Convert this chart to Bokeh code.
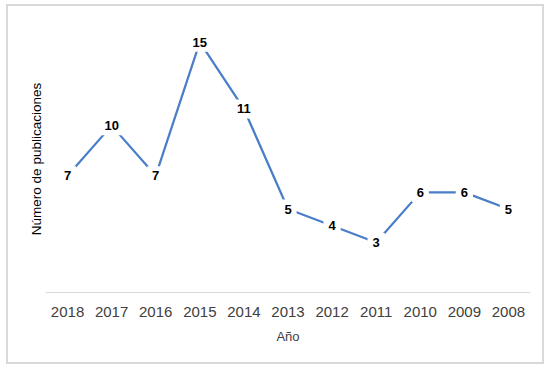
from bokeh.plotting import figure
from bokeh.models import ColumnDataSource, Range1d, FactorRange, FixedTicker
from bokeh.core.properties import value
from bokeh.embed import file_html
from bokeh.resources import INLINE

years = ["2018", "2017", "2016", "2015", "2014", "2013", "2012", "2011", "2010", "2009", "2008"]
counts = [7, 10, 7, 15, 11, 5, 4, 3, 6, 6, 5]
labels = [str(c) for c in counts]

src = ColumnDataSource(dict(x=years, y=counts, t=labels))

FONT = "Liberation Sans"
LINE = "#4A7EC8"

p = figure(width=538, height=360, x_range=FactorRange(*years), y_range=Range1d(0, 16),
           output_backend="svg", toolbar_location=None,
           min_border_left=37, min_border_right=16, min_border_top=19, min_border_bottom=74,
           styles={"border": "2px solid #D9D9D9",
                   "margin-left": "6px", "margin-top": "4px"})
p.outline_line_color = None
p.xgrid.visible = False
p.ygrid.visible = False
p.x_range.range_padding = 0

p.line("x", "y", source=src, line_color=LINE, line_width=2.25)
p.text(x="x", y="y", text="t", source=src, text_align="center",
       text_baseline="middle", text_font=value(FONT), text_font_style="bold",
       text_font_size="13px", text_color="#000000",
       background_fill_color="white", border_line_color=None, padding=5)

xa = p.xaxis[0]
xa.axis_line_color = "#D9D9D9"
xa.axis_line_width = 1
xa.major_tick_line_color = None
xa.minor_tick_line_color = None
xa.major_tick_out = 0
xa.major_label_standoff = 14
xa.major_label_text_font = FONT
xa.major_label_text_font_size = "15px"
xa.major_label_text_color = "#404040"
xa.axis_label = "Año"
xa.axis_label_standoff = 9
xa.axis_label_text_font = FONT
xa.axis_label_text_font_style = "normal"
xa.axis_label_text_font_size = "13px"
xa.axis_label_text_color = "#404040"

ya = p.yaxis[0]
ya.ticker = FixedTicker(ticks=[])
ya.axis_line_color = None
ya.major_tick_line_color = None
ya.minor_tick_line_color = None
ya.major_tick_out = 0
ya.major_label_standoff = 0
ya.axis_label = "Número de publicaciones"
ya.axis_label_standoff = 2
ya.axis_label_text_font = FONT
ya.axis_label_text_font_style = "normal"
ya.axis_label_text_font_size = "13.5px"
ya.axis_label_text_color = "#000000"

open("out.html", "w").write(file_html(p, INLINE))
